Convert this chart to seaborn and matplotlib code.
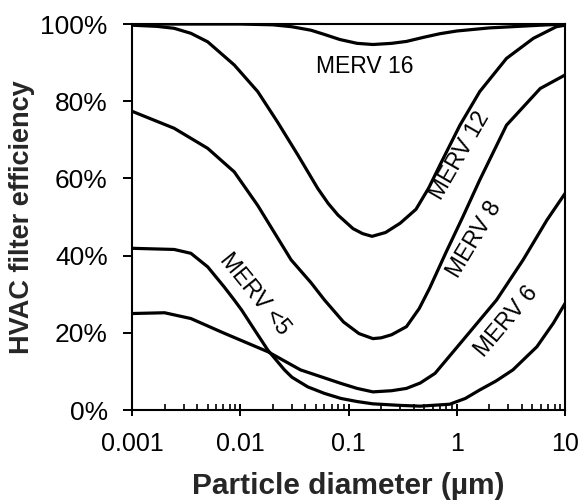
"""
HVAC filter efficiency vs particle diameter for several MERV ratings
"""

import pandas as pd
import matplotlib
matplotlib.use('Agg')
import matplotlib.pyplot as plt
import matplotlib.ticker as mticker
import seaborn as sns

# Particle diameter (um) and efficiency (%), one curve each
merv16_x = [0.001, 0.003, 0.01, 0.02, 0.03, 0.045, 0.06, 0.083, 0.12, 0.168,
            0.25, 0.343, 0.5, 0.7, 1.0, 2.0, 5.9, 10]
merv16_y = [100, 100, 100, 99.8, 99.3, 98.4, 97.3, 96.0, 95.0, 94.7,
            95.0, 95.5, 96.6, 97.5, 98.2, 99.0, 99.7, 100]

merv12_x = [0.001, 0.0017, 0.00245, 0.0035, 0.005, 0.0088, 0.0145, 0.022, 0.034,
            0.052, 0.065, 0.08, 0.11, 0.135, 0.165, 0.22, 0.30, 0.42, 0.55, 0.70,
            1.07, 1.63, 2.88, 5.1, 8.3, 10]
merv12_y = [99.7, 99.4, 98.9, 97.6, 95.4, 89.4, 82.5, 74.7, 66.1,
            57.4, 53.5, 50.5, 47.0, 45.7, 45.0, 46.0, 48.4, 52.0, 57.5, 63.5,
            73.8, 82.5, 91.1, 96.3, 99.3, 99.7]

merv8_x = [0.001, 0.00245, 0.005, 0.0088, 0.0145, 0.0295, 0.045, 0.06, 0.09,
           0.125, 0.168, 0.2, 0.25, 0.343, 0.45, 0.56, 0.80, 1.14, 1.63, 2.88,
           5.9, 10]
merv8_y = [77.4, 73.0, 67.8, 61.7, 53.0, 38.9, 33.0, 28.5, 22.8,
           19.8, 18.5, 18.7, 19.5, 21.6, 26.3, 31.5, 41.0, 50.1, 59.6, 73.8,
           83.3, 86.8]

merv6_x = [0.001, 0.002, 0.0035, 0.0071, 0.018, 0.036, 0.085, 0.12, 0.168,
           0.25, 0.343, 0.46, 0.63, 1.14, 2.33, 4.1, 6.8, 10]
merv6_y = [25.0, 25.2, 23.7, 19.9, 15.1, 10.4, 6.9, 5.6, 4.7,
           5.0, 5.6, 7.0, 9.5, 18.1, 28.5, 38.9, 49.2, 56.1]

merv5_x = [0.001, 0.00245, 0.0035, 0.005, 0.0071, 0.0088, 0.0103, 0.0136, 0.018,
           0.0256, 0.03, 0.042, 0.06, 0.085, 0.12, 0.168, 0.3, 0.46, 0.86, 1.2,
           1.63, 2.3, 3.3, 5.5, 7.8, 10]
merv5_y = [41.9, 41.6, 40.6, 37.1, 31.9, 28.5, 25.9, 20.7, 15.5,
           10.4, 8.5, 6.0, 4.3, 3.0, 2.2, 1.6, 1.2, 1.0, 1.5, 3.0,
           5.2, 7.5, 10.4, 16.4, 22.5, 27.6]

curve_names = ['MERV 16', 'MERV 12', 'MERV 8', 'MERV 6', 'MERV <5']

# label text, position (um, %) and rotation
label_x = [0.14, 1.07, 1.44, 2.88, 0.0137]
label_y = [88.9, 66.0, 44.2, 22.9, 30.0]
label_rot = [0, 60, 59, 50, -51]

x_ticks = [0.001, 0.01, 0.1, 1, 10]
y_ticks = [0, 20, 40, 60, 80, 100]


def build_frame():
    parts = []
    for name, xs, ys in zip(curve_names,
                            [merv16_x, merv12_x, merv8_x, merv6_x, merv5_x],
                            [merv16_y, merv12_y, merv8_y, merv6_y, merv5_y]):
        parts.append(pd.DataFrame({'diameter': xs, 'efficiency': ys, 'filter': name}))
    return pd.concat(parts, ignore_index=True)


def main():
    sns.set_style('ticks')
    plt.rcParams['font.family'] = ['Liberation Sans', 'DejaVu Sans']

    df = build_frame()

    fig, ax = plt.subplots(figsize=(5.81, 5.01), dpi=100)
    fig.subplots_adjust(left=0.2272, right=0.9725, bottom=0.1816, top=0.952)

    sns.lineplot(data=df, x='diameter', y='efficiency', hue='filter',
                 palette=['black'] * len(curve_names), estimator=None, sort=False,
                 linewidth=2.3, legend=False, ax=ax)

    ax.set_xscale('log')
    ax.set_xlim(0.001, 10)
    ax.set_ylim(0, 100)

    ax.set_xticks(x_ticks)
    ax.xaxis.set_major_formatter(mticker.FuncFormatter(lambda v, p: f'{v:g}'))
    ax.xaxis.set_minor_locator(mticker.LogLocator(base=10, subs=range(2, 10)))
    ax.xaxis.set_minor_formatter(mticker.NullFormatter())
    ax.set_yticks(y_ticks)
    ax.yaxis.set_major_formatter(mticker.PercentFormatter(decimals=0))

    ax.tick_params(axis='x', which='major', direction='inout', length=9,
                   width=1.4, labelsize=18, pad=11, colors='black')
    ax.tick_params(axis='x', which='minor', direction='in', length=4.3,
                   width=1.2, colors='black')
    ax.tick_params(axis='y', which='major', direction='out', length=6.5,
                   width=1.4, labelsize=19, pad=11, colors='black')

    for side in ['left', 'bottom', 'top', 'right']:
        ax.spines[side].set_visible(True)
        ax.spines[side].set_linewidth(1.5)
        ax.spines[side].set_color('black')

    ax.set_xlabel('Particle diameter (µm)', fontsize=21.5, fontweight='bold', labelpad=12)
    ax.set_ylabel('HVAC filter efficiency', fontsize=19.5, fontweight='bold', labelpad=4)

    for text, lx, ly, rot in zip(curve_names, label_x, label_y, label_rot):
        ax.text(lx, ly, text, rotation=rot, ha='center', va='center',
                rotation_mode='anchor', fontsize=16.5, color='black')

    plt.savefig('out.png', dpi=100)
    plt.close()


if __name__ == "__main__":
    main()
